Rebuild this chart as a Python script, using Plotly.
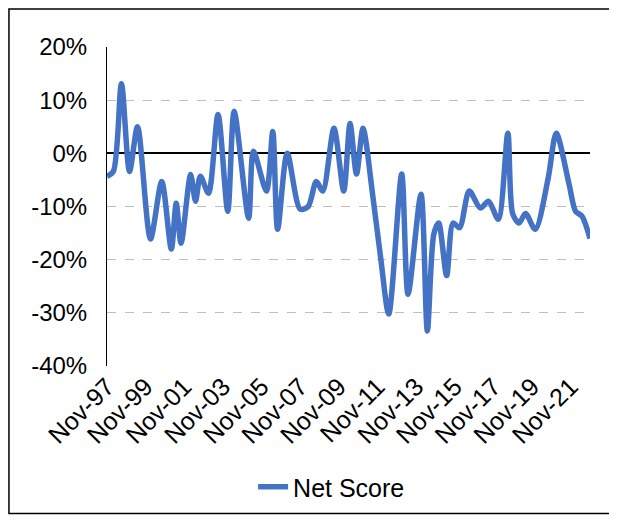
import plotly.graph_objects as go

# Net Score readings (month, value in %)
dates = ['1997-11', '1998-03', '1998-08', '1999-01', '1999-06', '2000-02', '2000-09',
         '2001-03', '2001-06', '2001-09', '2002-03', '2002-06', '2002-09', '2003-02',
         '2003-08', '2004-02', '2004-06', '2005-03', '2005-06', '2006-02', '2006-06',
         '2006-09', '2007-03', '2007-11', '2008-04', '2008-09', '2009-01', '2009-08',
         '2010-02', '2010-06', '2010-10', '2011-02', '2011-08', '2012-01', '2012-06',
         '2013-02', '2013-06', '2014-02', '2014-06', '2014-10', '2015-01', '2015-06',
         '2015-10', '2016-02', '2016-08', '2017-03', '2017-08', '2018-02', '2018-08',
         '2018-11', '2019-03', '2019-07', '2020-01', '2020-09', '2021-02', '2021-10',
         '2022-02', '2022-06', '2022-11']
net_score = [-4.3, -3.4, 13.1, -3.4, 5.0, -16.1, -5.3,
             -18.0, -9.4, -16.9, -4.0, -9.0, -4.3, -7.5,
             7.3, -10.9, 7.9, -12.2, 0.4, -7.1, 4.1,
             -14.3, 0.0, -10.5, -10.0, -5.3, -7.1, 4.7,
             -7.1, 5.6, -3.9, 4.7, -7.7, -19.7, -30.2,
             -3.9, -26.5, -7.7, -33.4, -15.2, -13.1, -23.0,
             -13.1, -14.0, -7.1, -10.3, -9.0, -12.4, 3.8,
             -11.4, -13.1, -11.3, -14.3, -4.7, 3.8, -5.8,
             -10.9, -11.8, -16.0]

y_ticks = [0.2, 0.1, 0.0, -0.1, -0.2, -0.3, -0.4]
y_labels = ['20%', '10%', '0%', '-10%', '-20%', '-30%', '-40%']

FONT = 'Liberation Sans, Arial, sans-serif'

fig = go.Figure()
fig.add_trace(go.Scatter(
    x=dates,
    y=[v / 100 for v in net_score],
    mode='lines',
    name='Net Score',
    line=dict(color='#4472C4', width=5.5, shape='spline', smoothing=0.8),
))

# the page body has an 8px margin, so the figure is a bit smaller than the window
fig.update_layout(
    width=609, height=512,
    margin=dict(l=99, r=27, t=39, b=153),
    paper_bgcolor='white', plot_bgcolor='white',
    font=dict(family=FONT, size=24, color='black'),
    showlegend=True,
    legend=dict(orientation='h', x=0.465, xanchor='center', y=-0.375, yanchor='middle',
                font=dict(size=25)),
    xaxis=dict(
        type='date',
        range=['1997-11-01', '2022-11-01'],
        tick0='1997-11-01', dtick='M24',
        tickformat='%b-%y', tickangle=-45,
        showgrid=False, showline=False, zeroline=False,
        ticks='', ticklabelstandoff=0,
        tickfont=dict(size=25), automargin=False,
    ),
    yaxis=dict(
        range=[-0.4, 0.2],
        tickmode='array', tickvals=y_ticks, ticktext=y_labels,
        showgrid=True, gridcolor='#BFBFBF', griddash='dash', gridwidth=1,
        zeroline=True, zerolinecolor='black', zerolinewidth=1.5,
        showline=True, linecolor='black', linewidth=1,
        ticks='', ticklabelstandoff=14,
        tickfont=dict(size=24), automargin=False,
    ),
    shapes=[dict(type='rect', xref='paper', yref='paper',
                 x0=-0.203, x1=1.0455, y0=-0.4625, y1=1.119,
                 line=dict(color='black', width=1.5))],
)

fig.write_html("out.html")
